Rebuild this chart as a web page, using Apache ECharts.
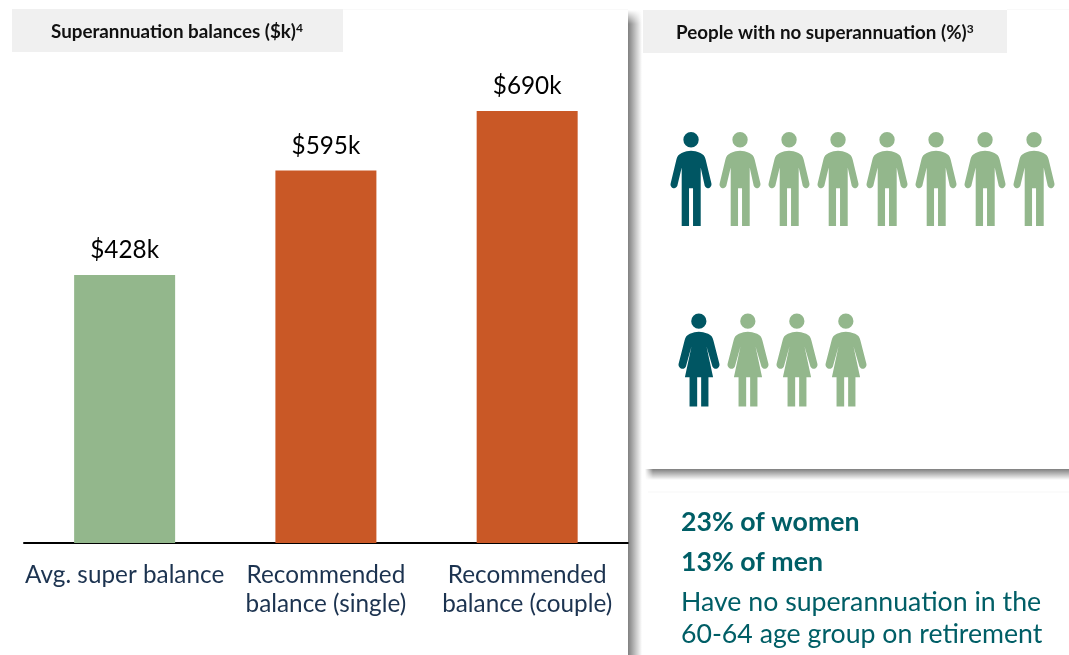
<!DOCTYPE html>
<html><head><meta charset="utf-8">
<style>html,body{margin:0;padding:0;background:#fff}#c{width:1069px;height:655px}</style>
<script src="https://cdn.jsdelivr.net/npm/echarts@6/dist/echarts.min.js"></script>
</head><body><div id="c"></div>
<script>
const categories = ['Avg. super balance', 'Recommended\nbalance (single)', 'Recommended\nbalance (couple)'];
const balances = [428, 595, 690];
const balanceGroups = ['actual', 'recommended', 'recommended'];
const menIcons = [1, 0, 0, 0, 0, 0, 0, 0];
const womenIcons = [1, 0, 0, 0];
const leftTitle = 'Superannuation balances ($k)';
const rightTitle = 'People with no superannuation (%)';
const statLines = ['23% of women', '13% of men'];
const noteLines = ['Have no superannuation in the', '60-64 age group on retirement'];

const FONT = 'Lato';
const GREEN = '#93b78c', ORANGE = '#c95826', TEAL = '#005663', NAVY = '#1c3350', TEXTTEAL = '#005e66';
const manPath = 'path://M70 60A23 23 0 1 1 116 60A23 23 0 1 1 70 60ZM65 100C75 95 85 93 93 93C101 93 111 95 121 100C130 104 135 110 137 120L154 190C157 203 140 212 134 198L122 143L122 318L99 318L99 205L87 205L87 318L65 318L65 143L52 198C46 212 28 203 32 190L49 120C51 110 56 104 65 100Z';
const womanPath = 'path://M94 65A23 23 0 1 1 140 65A23 23 0 1 1 94 65ZM90 103C100 99 108 97 117 97C126 97 134 99 145 103C154 107 159 113 161 123L179 193C182 206 165 215 158 201L140 140L160 233L146 233L146 321L124 321L124 233L112 233L112 321L89 321L89 233L75 233L95 140L78 201C72 215 53 206 56 193L74 123C76 113 81 107 90 103Z';

const iconSeries = (icons, path, axisIdx, size) => ({
  type: 'scatter', xAxisIndex: axisIdx, yAxisIndex: axisIdx, symbol: path, symbolSize: size, silent: true,
  data: icons.map((v, i) => ({ value: [i, 0], itemStyle: { color: v ? TEAL : GREEN, opacity: 1 } })), z: 5
});
const hiddenCat = (n, g) => ({ type: 'category', gridIndex: g, data: Array.from({length: n}, (_, i) => i), show: false });
const hiddenVal = g => ({ type: 'value', gridIndex: g, min: -1, max: 1, show: false });
const txt = (x, y, text, weight, fill) => ({ type: 'text', x, y, z: 10, silent: true,
  style: { text, fontFamily: FONT, fontSize: 26.7, fontWeight: weight, fill, textVerticalAlign: 'middle' } });
const titleText = (x, y, main, sup) => ({ type: 'text', x, y, z: 10, silent: true, style: {
  text: '{t|' + main + '}{s|' + sup + '}', textVerticalAlign: 'middle', rich: {
    t: { fontFamily: FONT, fontWeight: 'bold', fontSize: 18.8, fill: '#111' },
    s: { fontFamily: FONT, fontWeight: 'bold', fontSize: 12, fill: '#111', padding: [0, 0, 7, 0] } } } });
const shadow = (x, y, width, height, horizontal) => ({ type: 'rect', z: 0, silent: true, shape: { x, y, width, height },
  style: { fill: new echarts.graphic.LinearGradient(0, 0, horizontal ? 1 : 0, horizontal ? 0 : 1, [
    { offset: 0, color: 'rgba(0,0,0,0.5)' }, { offset: 1, color: 'rgba(0,0,0,0)' }]) } });
const fade = (x, y, width, height, horizontal) => ({ type: 'rect', z: 0, zlevel: 0, silent: true, shape: { x, y, width, height },
  style: { fill: new echarts.graphic.LinearGradient(0, 0, horizontal ? 1 : 0, horizontal ? 0 : 1, [
    { offset: 0, color: 'rgba(255,255,255,1)' }, { offset: 1, color: 'rgba(255,255,255,0)' }]) } });

const chart = echarts.init(document.getElementById('c'), null, { renderer: 'canvas' });
chart.setOption({
  animation: false, backgroundColor: '#fff',
  grid: [
    { left: 24, width: 603.8, top: 42, height: 501 },
    { left: 666.5, width: 392, top: 129, height: 100 },
    { left: 674.5, width: 196, top: 310, height: 100 }
  ],
  xAxis: [
    { type: 'category', gridIndex: 0, data: categories,
      axisLine: { lineStyle: { color: '#000', width: 2 } }, axisTick: { show: false },
      axisLabel: { interval: 0, margin: 18, fontFamily: FONT, fontSize: 24.3, color: NAVY, lineHeight: 29 } },
    hiddenCat(menIcons.length, 1), hiddenCat(womenIcons.length, 2)
  ],
  yAxis: [
    { type: 'value', gridIndex: 0, min: 0, max: 800, show: false },
    hiddenVal(1), hiddenVal(2)
  ],
  series: [
    { type: 'bar', barWidth: 101, silent: true,
      data: balances.map((v, i) => ({ value: v, itemStyle: { color: balanceGroups[i] === 'actual' ? GREEN : ORANGE } })),
      label: { show: true, position: 'top', distance: 12.5, fontFamily: FONT, fontSize: 24.3, color: '#000', formatter: p => '$' + p.value + 'k' } },
    iconSeries(menIcons, manPath, 1, [41, 94]),
    iconSeries(womenIcons, womanPath, 2, [41, 93])
  ],
  graphic: [
    shadow(628, 10, 14, 645, true),
    shadow(645, 469, 424, 11, false),
    fade(628, 10, 14, 14, false),
    fade(645, 469, 8, 11, true),
    { type: 'rect', z: 1, silent: true, shape: { x: 12, y: 9, width: 331, height: 43 }, style: { fill: '#f0f0f0' } },
    { type: 'rect', z: 1, silent: true, shape: { x: 643, y: 10, width: 364, height: 43 }, style: { fill: '#f0f0f0' } },
    { type: 'line', z: 1, silent: true, shape: { x1: 648, y1: 492, x2: 1069, y2: 492 }, style: { stroke: '#f7f7f7', lineWidth: 1 } },
    { type: 'line', z: 1, silent: true, shape: { x1: 343, y1: 9.5, x2: 628, y2: 9.5 }, style: { stroke: '#f9f9f9', lineWidth: 1 } },
    { type: 'line', z: 1, silent: true, shape: { x1: 1007, y1: 9.5, x2: 1069, y2: 9.5 }, style: { stroke: '#f9f9f9', lineWidth: 1 } },
    titleText(51, 32, leftTitle, '4'),
    titleText(676, 33, rightTitle, '3'),
    txt(681, 522, statLines[0], 'bold', TEXTTEAL),
    txt(681, 562, statLines[1], 'bold', TEXTTEAL),
    txt(681, 602, noteLines[0], 'normal', TEXTTEAL),
    txt(681, 634, noteLines[1], 'normal', TEXTTEAL)
  ]
});
</script></body></html>
